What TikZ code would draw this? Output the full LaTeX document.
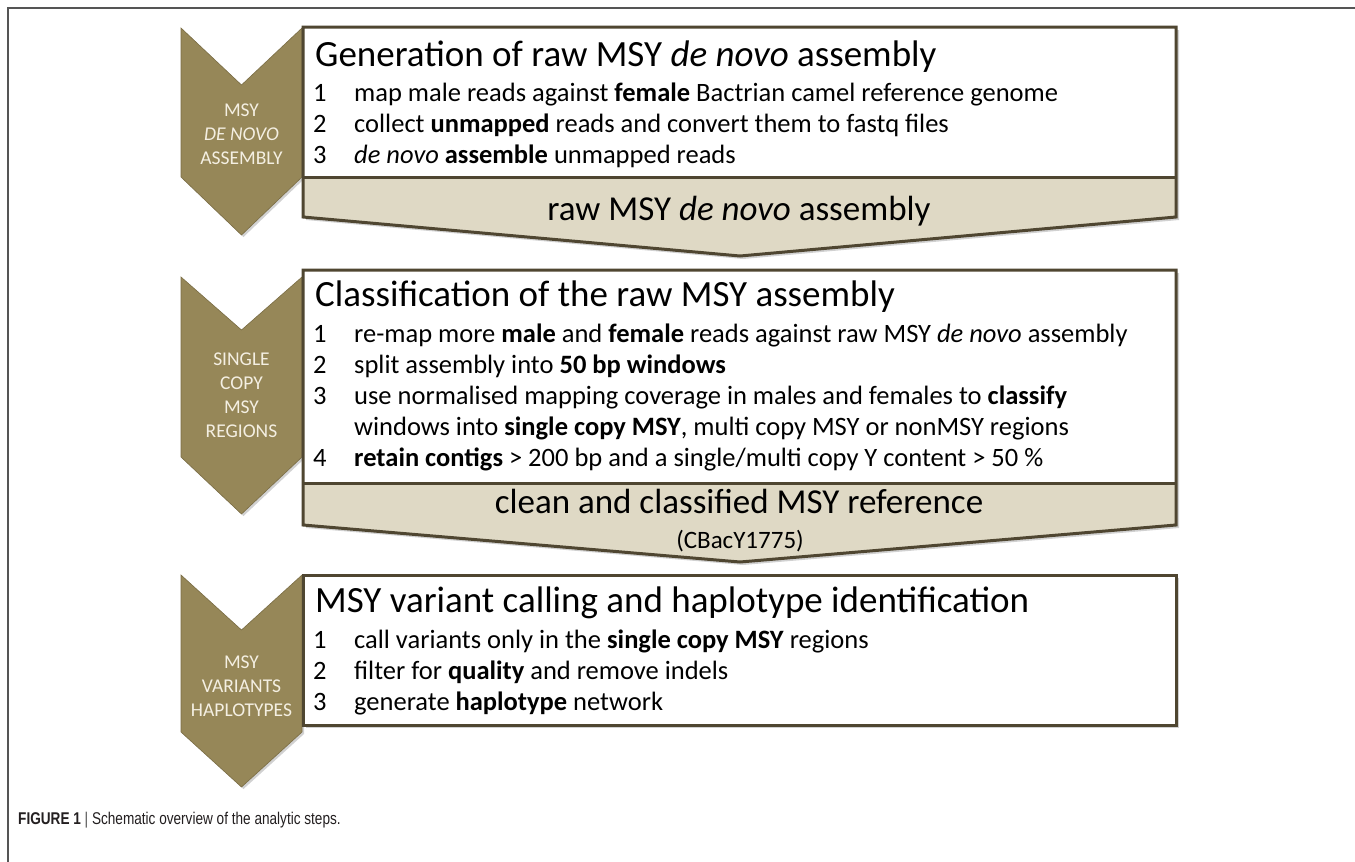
\documentclass[tikz,border=0pt]{standalone}
\usepackage{fontspec}
\setmainfont{Carlito}
\newfontfamily\capfont[FakeStretch=0.8]{Liberation Sans}
\definecolor{chev}{HTML}{968758}
\definecolor{chevedge}{HTML}{7A6D45}
\definecolor{edge}{HTML}{4F4631}
\definecolor{beige}{HTML}{DFD9C5}
\definecolor{chevtext}{HTML}{F4EFE2}
\definecolor{framec}{HTML}{555555}
\definecolor{captext}{HTML}{231F20}
\begin{document}
\begin{tikzpicture}[x=1pt,y=-1pt,
 chevron/.style={fill=chev, draw=chevedge, line width=0.6pt},
 shade/.style={fill=black!18, draw=none},
 boxline/.style={draw=edge, line width=3pt, line join=miter},
 chevlabel/.style={text=chevtext, inner sep=0, font=\fontsize{19.5}{24}\selectfont, align=center},
 title/.style={anchor=base west, inner sep=0, font=\fontsize{37}{42}\selectfont},
 num/.style={anchor=base west, inner sep=0, font=\fontsize{26.5}{30}\selectfont},
 item/.style={anchor=base west, inner sep=0, font=\fontsize{26.5}{30}\selectfont},
 result/.style={anchor=base, inner sep=0, font=\fontsize{35}{40}\selectfont},
 resultsmall/.style={anchor=base, inner sep=0, font=\fontsize{25}{28}\selectfont},
]
\useasboundingbox (0,0) rectangle (1355,862);
\fill[white] (0,0) rectangle (1355,862);
% outer frame (top and left)
\draw[framec, line width=1.5pt] (8,862) -- (8,8) -- (1355,8);

% ---------- chevrons ----------
\fill[shade] (183,30) -- (243.5,87) -- (304,30) -- (304,179) -- (243.5,237) -- (183,179) -- cycle;
\path[chevron] (181,28) -- (241.5,85) -- (302,28) -- (302,177) -- (241.5,235) -- (181,177) -- cycle;
\fill[shade] (183,279) -- (243.5,332) -- (304,279) -- (304,459) -- (243.5,516) -- (183,459) -- cycle;
\path[chevron] (181,277) -- (241.5,330) -- (302,277) -- (302,457) -- (241.5,514) -- (181,457) -- cycle;
\fill[shade] (183,577) -- (243.5,632) -- (304,577) -- (304,734) -- (243.5,789) -- (183,734) -- cycle;
\path[chevron] (181,575) -- (241.5,630) -- (302,575) -- (302,732) -- (241.5,787) -- (181,732) -- cycle;

\node[chevlabel] (c1) at (241.5,134) {MSY\\\textit{DE NOVO}\\ASSEMBLY};
\node[chevlabel] (c2) at (241.5,395) {SINGLE\\COPY\\MSY\\REGIONS};
\node[chevlabel] (c3) at (241.5,686) {MSY\\VARIANTS\\HAPLOTYPES};

% ---------- box 1 ----------
\fill[shade] (306,30) -- (1179,30) -- (1179,220) -- (743,259) -- (306,220) -- cycle;
\fill[beige] (303,27) -- (1176,27) -- (1176,217) -- (740,256) -- (303,217) -- cycle;
\fill[white] (303,27) rectangle (1176,177);
\draw[boxline] (303,177) -- (1176,177);
\draw[boxline] (303,27) -- (1176,27) -- (1176,217) -- (740,256) -- (303,217) -- cycle;

\node[title] (t1) at (315,66) {Generation of raw MSY \textit{de novo} assembly};
\node[num] (n11) at (313,101) {1};
\node[item] (i11) at (354,101) {map male reads against \textbf{female} Bactrian camel reference genome};
\node[num] (n12) at (313,132) {2};
\node[item] (i12) at (354,132) {collect \textbf{unmapped} reads and convert them to fastq files};
\node[num] (n13) at (313,163) {3};
\node[item] (i13) at (354,163) {\textit{de novo} \textbf{assemble} unmapped reads};
\node[result] (r1) at (739,220) {raw MSY \textit{de novo} assembly};

% ---------- box 2 ----------
\fill[shade] (306,273) -- (1179,273) -- (1179,528) -- (743,565) -- (306,528) -- cycle;
\fill[beige] (303,270) -- (1176,270) -- (1176,525) -- (740,562) -- (303,525) -- cycle;
\fill[white] (303,270) rectangle (1176,483);
\draw[boxline] (303,483) -- (1176,483);
\draw[boxline] (303,270) -- (1176,270) -- (1176,525) -- (740,562) -- (303,525) -- cycle;

\node[title] (t2) at (315,306) {Classification of the raw MSY assembly};
\node[num] (n21) at (313,342) {1};
\node[item] (i21) at (354,342) {re-map more \textbf{male} and \textbf{female} reads against raw MSY \textit{de novo} assembly};
\node[num] (n22) at (313,373) {2};
\node[item] (i22) at (354,373) {split assembly into \textbf{50 bp windows}};
\node[num] (n23) at (313,404) {3};
\node[item] (i23) at (354,404) {use normalised mapping coverage in males and females to \textbf{classify}};
\node[item] (i23b) at (354,435) {windows into \textbf{single copy MSY}, multi copy MSY or nonMSY regions};
\node[num] (n24) at (313,466) {4};
\node[item] (i24) at (354,466) {\textbf{retain contigs} > 200 bp and a single/multi copy Y content > 50 \%};
\node[result] (r2) at (739,513) {clean and classified MSY reference};
\node[resultsmall] (r2b) at (740,548) {(CBacY1775)};

% ---------- box 3 ----------
\fill[shade] (306,578) rectangle (1179,728);
\fill[white] (303,575) rectangle (1176,725);
\draw[boxline] (303,575) rectangle (1176,725);

\node[title] (t3) at (315,612) {MSY variant calling and haplotype identification};
\node[num] (n31) at (313,648) {1};
\node[item] (i31) at (354,648) {call variants only in the \textbf{single copy MSY} regions};
\node[num] (n32) at (313,679) {2};
\node[item] (i32) at (354,679) {filter for \textbf{quality} and remove indels};
\node[num] (n33) at (313,710) {3};
\node[item] (i33) at (354,710) {generate \textbf{haplotype} network};

% ---------- caption ----------
\node[anchor=base west, inner sep=0, text=captext, font=\capfont\fontsize{17}{20}\selectfont] (cap) at (18,824)
  {\textbf{FIGURE 1} {\color{black!70}|} Schematic overview of the analytic steps.};
\end{tikzpicture}
\end{document}
